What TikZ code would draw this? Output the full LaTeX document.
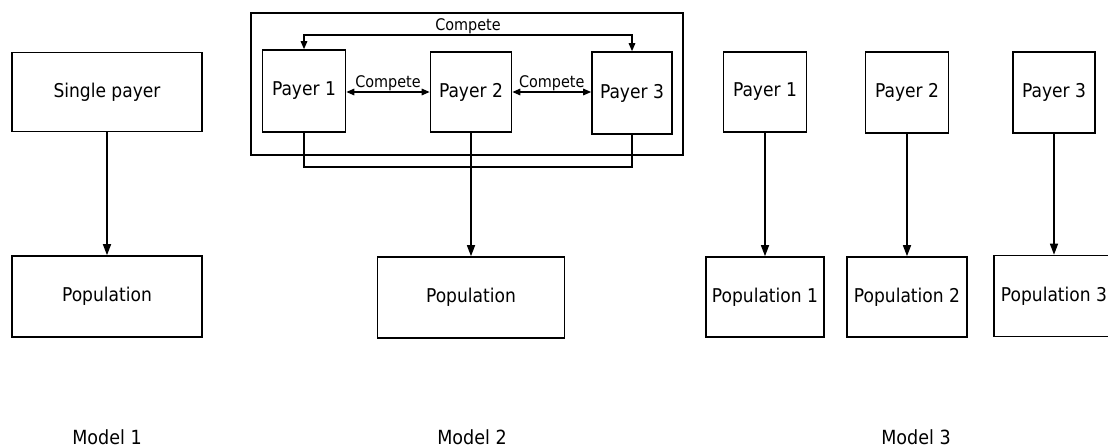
\documentclass[tikz,border=0pt]{standalone}
\usepackage{fontspec}
\setmainfont{DejaVu Sans Condensed}
\usetikzlibrary{arrows.meta}
\begin{document}
\begin{tikzpicture}[x=1pt,y=-1pt,
  box/.style={draw,line width=1.6pt,inner sep=0pt,font=\fontsize{19}{22}\selectfont},
  link/.style={line width=1.5pt},
  arr/.style={link,-{Triangle[length=11pt,width=8pt]}},
  duo/.style={link,{Triangle[length=8pt,width=6.5pt]}-{Triangle[length=8pt,width=6.5pt]}},
  lbl/.style={font=\fontsize{16}{18}\selectfont,inner sep=0.5pt},
  model/.style={font=\fontsize{19.5}{22}\selectfont,anchor=base,inner sep=0pt}]
\useasboundingbox (0,0) rectangle (1108,447);

% Model 1: a single payer
\node[box,minimum width=190pt,minimum height=79pt] (sp) at (107,92) {Single payer};
\node[box,minimum width=190pt,minimum height=81pt] (pa) at (107,296.5) {Population};
\draw[arr] (sp.south) -- (pa.north);
\node[model] (m1) at (107,444) {Model 1};

% Model 2: competing payers serving one population
\node[draw,line width=1.5pt,inner sep=0pt,minimum width=432pt,minimum height=142pt] (frame) at (467,84) {};
\node[box,minimum width=83pt,minimum height=82pt] (b1) at (304,91) {Payer 1};
\node[box,minimum width=81pt,minimum height=80pt] (b2) at (471,92) {Payer 2};
\node[box,minimum width=80pt,minimum height=82pt] (b3) at (632,93) {Payer 3};
\node[box,minimum width=187pt,minimum height=81pt] (pb) at (471,297.5) {Population};
\draw[duo] (b1.north) -- ++(0,-14) coordinate (t1) -| (b3.north);
\node[lbl,above=1pt] (c0) at (468,36) {Compete};
\draw[duo] (b1.east |- 0,92) -- (b2.west |- 0,92) node[lbl,midway,above=0pt] (c1) {Compete};
\draw[duo] (b2.east |- 0,92) -- (b3.west |- 0,92) node[lbl,midway,above=0pt] (c2) {Compete};
\coordinate (jn) at (471,167);
\draw[link] (b1.south) |- (jn) -| (b3.south);
\draw[arr] (b2.south) -- (pb.north);
\node[model] (m2) at (472,444) {Model 2};

% Model 3: each payer with its own population
\node[box,minimum width=83pt,minimum height=80pt] (q1) at (765,92) {Payer 1};
\node[box,minimum width=83pt,minimum height=81pt] (q2) at (907,92.5) {Payer 2};
\node[box,minimum width=82pt,minimum height=81pt] (q3) at (1054,92.5) {Payer 3};
\node[box,minimum width=118pt,minimum height=80pt] (r1) at (765,297) {Population 1};
\node[box,minimum width=120pt,minimum height=80pt] (r2) at (907,297) {Population 2};
\node[box,minimum width=120pt,minimum height=81pt] (r3) at (1054,296) {Population 3};
\draw[arr] (q1.south) -- (r1.north);
\draw[arr] (q2.south) -- (r2.north);
\draw[arr] (q3.south) -- (r3.north);
\node[model] (m3) at (916,444) {Model 3};
\end{tikzpicture}
\end{document}
